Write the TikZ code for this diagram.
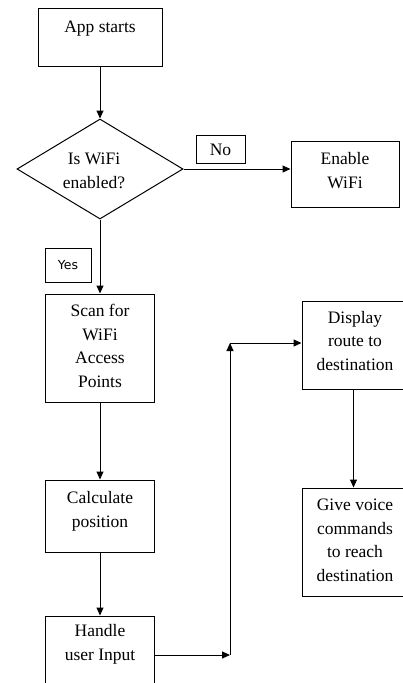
\documentclass[tikz,border=0pt]{standalone}
\usepackage{fontspec}
\setmainfont{Liberation Serif}
\newfontfamily\yesfont{DejaVu Sans}
\usetikzlibrary{arrows.meta,shapes.geometric}
\begin{document}
\begin{tikzpicture}[x=1pt,y=-1pt,
  box/.style={draw=black,line width=1pt,inner sep=0pt,rectangle},
  txt/.style={font=\fontsize{17.5}{23.5}\selectfont,align=center,inner sep=0pt,anchor=base},
  arr/.style={line width=1pt,-{Triangle[length=8pt,width=7pt]}}]
\useasboundingbox (0,0) rectangle (403,683);
% boxes
\node[box,minimum width=124pt,minimum height=58pt] (app) at (100,37) {};
\node[draw=black,line width=1pt,diamond,inner sep=0pt,minimum width=166pt,minimum height=100pt,aspect=1.66] (dec) at (100,169) {};
\node[box,minimum width=108pt,minimum height=66pt] (en) at (345,174) {};
\node[box,minimum width=49pt,minimum height=28pt] (no) at (220.5,149) {};
\node[box,minimum width=46pt,minimum height=34pt] (yes) at (68,265) {};
\node[box,minimum width=109pt,minimum height=108pt] (scan) at (100,348) {};
\node[box,minimum width=109pt,minimum height=72pt] (calc) at (100,516) {};
\node[box,minimum width=109pt,minimum height=72pt] (hand) at (100,652) {};
\node[box,minimum width=103pt,minimum height=88pt] (disp) at (353.5,345) {};
\node[box,minimum width=103pt,minimum height=108pt] (give) at (353.5,542) {};
% texts (anchor base = baseline of the last line)
\node[txt] (appt) at (100,32) {App starts};
\node[txt] (dect) at (94,188) {Is WiFi\\enabled?};
\node[txt] (ent) at (345,188) {Enable\\WiFi};
\node[txt] (not) at (220.5,155) {No};
\node[txt,font=\yesfont\fontsize{12.5}{15}\selectfont] (yest) at (68,269) {Yes};
\node[txt] (scant) at (100,387) {Scan for\\WiFi\\Access\\Points};
\node[txt] (calct) at (100,527) {Calculate\\position};
\node[txt] (handt) at (100,660) {Handle\\user Input};
\node[txt] (dispt) at (355,370) {Display\\route to\\destination};
\node[txt] (givet) at (355,581) {Give voice\\commands\\to reach\\destination};
% connectors
\coordinate (j1) at (230,655);
\coordinate (j2) at (230,343);
\draw[arr] (app.south) -- (dec.north);
\draw[arr] (dec.east) -- (dec.east -| en.west);
\draw[arr] (dec.south) -- (scan.north);
\draw[arr] (scan.south) -- (calc.north);
\draw[arr] (calc.south) -- (hand.north);
\draw[arr] (hand.east |- j1) -- (j1);
\draw[arr] (j1) -- (j2);
\draw[arr] (j2) -- (j2 -| disp.west);
\draw[arr] (disp.south) -- (give.north);
\end{tikzpicture}
\end{document}
